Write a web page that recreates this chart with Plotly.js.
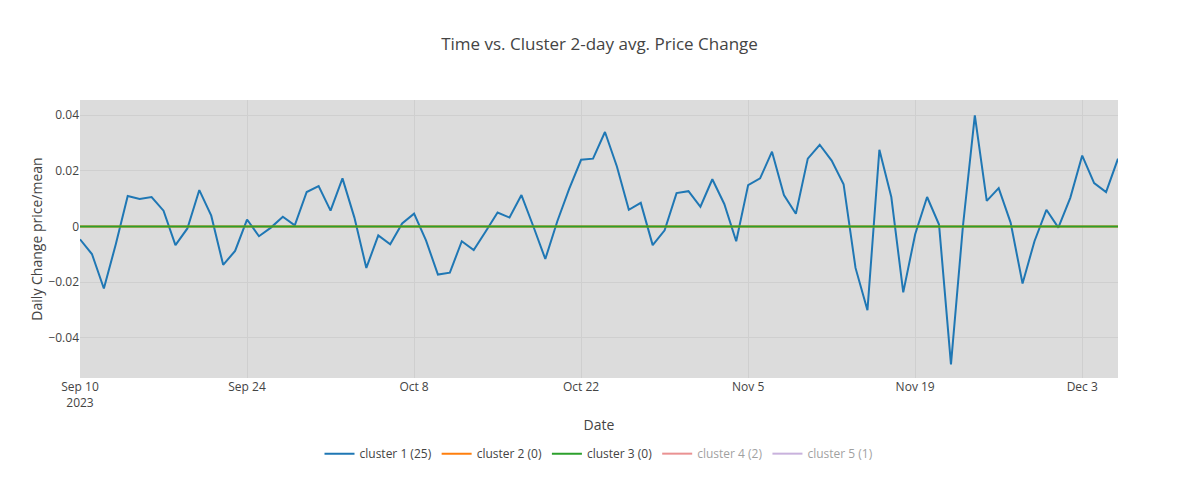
<!DOCTYPE html>
<html>
<head>
<meta charset="utf-8">
<script src="https://cdn.plot.ly/plotly-3.0.1.min.js"></script>
<style>body{margin:0}</style>
</head>
<body>
<div id="plot" style="width:1199px;height:480px"></div>
<script>
// daily values, Sep 10 .. Dec 6 2023
const startDate = '2023-09-10';
const cluster1 = [
  -0.0046, -0.0099, -0.0223, -0.0064, 0.011, 0.0099, 0.0106, 0.0057, -0.0067, -0.0007,
  0.0131, 0.0039, -0.0138, -0.0088, 0.0025, -0.0035, -0.0004, 0.0035, 0.0004, 0.0124,
  0.0145, 0.0057, 0.0173, 0.0032, -0.0149, -0.0032, -0.0064, 0.0011, 0.0046, -0.005,
  -0.0173, -0.0166, -0.0053, -0.0085, -0.0018, 0.005, 0.0032, 0.0113, 0.0, -0.0117,
  0.0018, 0.0135, 0.024, 0.0244, 0.034, 0.0216, 0.006, 0.0085, -0.0067, -0.0014,
  0.012, 0.0127, 0.0071, 0.017, 0.0081, -0.0053, 0.0149, 0.0173, 0.0269, 0.0113,
  0.0046, 0.0244, 0.0294, 0.0237, 0.0152, -0.0149, -0.0301, 0.0276, 0.0106, -0.0237,
  -0.0028, 0.0106, 0.0007, -0.0496, 0.0, 0.04, 0.0092, 0.0138, 0.0014, -0.0205,
  -0.0053, 0.006, -0.0004, 0.0103, 0.0255, 0.0156, 0.0124, 0.0244
];
const clusterNames = ['cluster 1 (25)', 'cluster 2 (0)', 'cluster 3 (0)', 'cluster 4 (2)', 'cluster 5 (1)'];
const clusterColors = ['#1f77b4', '#ff7f0e', '#2ca02c', '#d62728', '#9467bd'];

const dates = cluster1.map((_, i) => {
  const d = new Date(startDate + 'T00:00:00Z');
  d.setUTCDate(d.getUTCDate() + i);
  return d.toISOString().slice(0, 10);
});
const zeros = cluster1.map(() => 0);

const data = clusterNames.map((name, i) => ({
  x: dates,
  y: i === 0 ? cluster1 : zeros,
  mode: 'lines',
  type: 'scatter',
  name: name,
  line: { color: clusterColors[i], width: 2 },
  visible: i >= 3 ? 'legendonly' : true
}));

const layout = {
  width: 1199,
  height: 480,
  font: { family: 'Open Sans', color: '#444' },
  title: { text: 'Time vs. Cluster 2-day avg. Price Change', x: 0.5, y: 0.908, yanchor: 'middle', font: { size: 17 } },
  paper_bgcolor: 'white',
  plot_bgcolor: '#dcdcdc',
  margin: { l: 80, r: 81, t: 100, b: 99 },
  xaxis: {
    title: { text: 'Date', font: { size: 14 } },
    gridcolor: '#cfcfcf',
    zeroline: false,
    tickfont: { size: 12 }
  },
  yaxis: {
    title: { text: 'Daily Change price/mean', font: { size: 14 } },
    range: [-0.0545, 0.0455],
    dtick: 0.02,
    gridcolor: '#cfcfcf',
    zeroline: false,
    tickfont: { size: 12 }
  },
  legend: { orientation: 'h', x: 0.5, xanchor: 'center', y: -0.22, yanchor: 'top', font: { size: 12 } },
  showlegend: true
};

Plotly.newPlot('plot', data, layout, { displayModeBar: false });
</script>
</body>
</html>
